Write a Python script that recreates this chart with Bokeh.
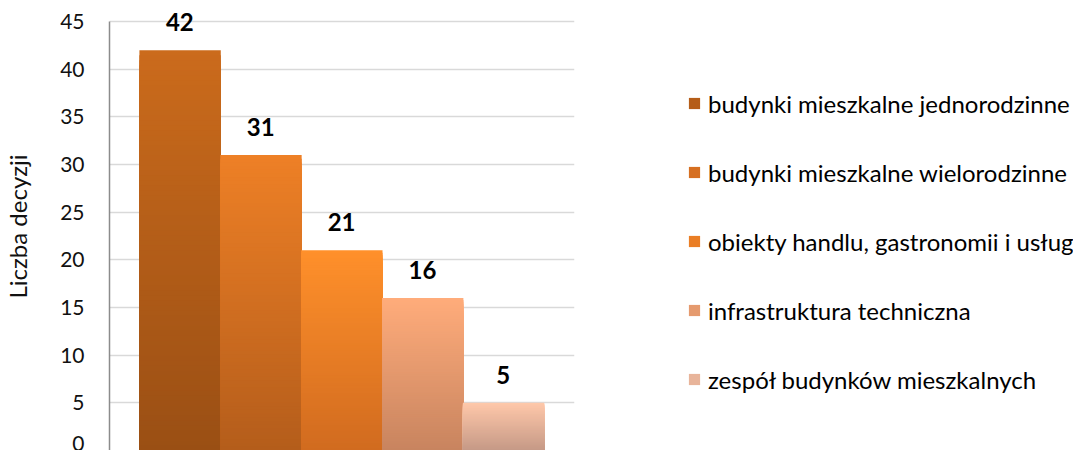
import numpy as np
from bokeh.plotting import figure
from bokeh.layouts import row
from bokeh.models import Range1d, ColumnDataSource, LabelSet, Legend, LegendItem, FixedTicker
from bokeh.core.properties import value
from bokeh.embed import file_html
from bokeh.resources import INLINE

# ---- data ----
categories = [
    "budynki mieszkalne jednorodzinne",
    "budynki mieszkalne wielorodzinne",
    "obiekty handlu, gastronomii i usług",
    "infrastruktura techniczna",
    "zespół budynków mieszkalnych",
]
values = [42, 31, 21, 16, 5]
y_ticks = [0, 5, 10, 15, 20, 25, 30, 35, 40, 45]
top_colors = ["#CB6B1C", "#EE8026", "#FF902B", "#FFAC7B", "#FFC8AA"]
bottom_colors = ["#9A4F14", "#B45D1B", "#D16B1F", "#C8845F", "#C59986"]
mid_colors = ["#B55D18", "#D66F21", "#EA7E25", "#E59A6E", "#E8B49A"]

FONT = "Lato"
H = 450


def hex2rgb(h):
    h = h.lstrip("#")
    return np.array([int(h[i:i + 2], 16) for i in (0, 2, 4)], dtype=float)


def rgb2hex(c):
    return "#%02x%02x%02x" % tuple(int(round(v)) for v in c)


# ---- gradient bars built from values ----
N = 80
lefts, rights, tops, bottoms, colors = [], [], [], [], []
for i, v in enumerate(values):
    ct, cb = hex2rgb(top_colors[i]), hex2rgb(bottom_colors[i])
    edges = np.linspace(0, v, N + 1)[1:]
    for k in range(N - 1, -1, -1):
        t = (k + 0.5) / N
        lefts.append(i)
        rights.append(i + 1.006)
        tops.append(edges[k])
        bottoms.append(0)
        colors.append(rgb2hex(cb + (ct - cb) * t))

src = ColumnDataSource(dict(left=lefts, right=rights, top=tops, bottom=bottoms, color=colors))

p = figure(
    width=579, height=H,
    x_range=Range1d(-0.37, 5.38), y_range=Range1d(0, 47),
    output_backend="svg", toolbar_location=None,
    min_border_left=108, min_border_right=5, min_border_top=2, min_border_bottom=0,
)
p.outline_line_color = None
p.background_fill_color = "white"
p.xaxis.visible = False
p.xgrid.visible = False
p.ygrid.grid_line_color = "#D9D9D9"
p.ygrid.grid_line_width = 1.5

p.quad(left="left", right="right", top="top", bottom="bottom", fill_color="color",
       line_color=None, source=src)

yax = p.yaxis[0]
yax.ticker = FixedTicker(ticks=y_ticks)
yax.bounds = (0, 45)
yax.major_tick_out = 0
yax.major_tick_in = 0
yax.minor_tick_out = 0
yax.minor_tick_in = 0
yax.axis_line_color = "#8C8C8C"
yax.axis_line_width = 1.5
yax.major_label_standoff = 25
yax.major_label_text_font = FONT
yax.major_label_text_font_size = "21px"
yax.major_label_text_color = "#111111"
yax.axis_label = "Liczba decyzji"
yax.axis_label_text_font = FONT
yax.axis_label_text_font_size = "24px"
yax.axis_label_text_font_style = "normal"
yax.axis_label_text_color = "#111111"
yax.axis_label_standoff = 25

# data labels
lab_src = ColumnDataSource(dict(x=[i + 0.5 for i in range(len(values))], y=values,
                                t=[str(v) for v in values]))
p.add_layout(LabelSet(x="x", y="y", text="t", source=lab_src, y_offset=19,
                      text_align="center", text_baseline="alphabetic",
                      text_font=value(FONT), text_font_size="24px", text_font_style="bold",
                      text_color="#000000"))

# legend in a companion panel
p2 = figure(width=494, height=H, x_range=Range1d(0, 1), y_range=Range1d(0, 1),
            output_backend="svg", toolbar_location=None,
            min_border_left=0, min_border_right=0, min_border_top=0, min_border_bottom=0)
p2.axis.visible = False
p2.grid.visible = False
p2.outline_line_color = None

items = []
for name, c in zip(categories, mid_colors):
    # zero-area placeholder so the legend swatch gets drawn
    r = p2.quad(left=[0], right=[0], top=[0], bottom=[0], fill_color=c, line_color=None)
    items.append(LegendItem(label=name, renderers=[r]))

legend = Legend(items=items, location=(108, 56), orientation="vertical",
                label_text_font=FONT, label_text_font_size="24px", label_text_color="#000000",
                glyph_width=14, glyph_height=14, label_standoff=7, spacing=39, label_height=30,
                padding=0, margin=0, border_line_color=None, background_fill_alpha=0)
p2.add_layout(legend, "center")

open("out.html", "w").write(file_html(row(p, p2), INLINE))
